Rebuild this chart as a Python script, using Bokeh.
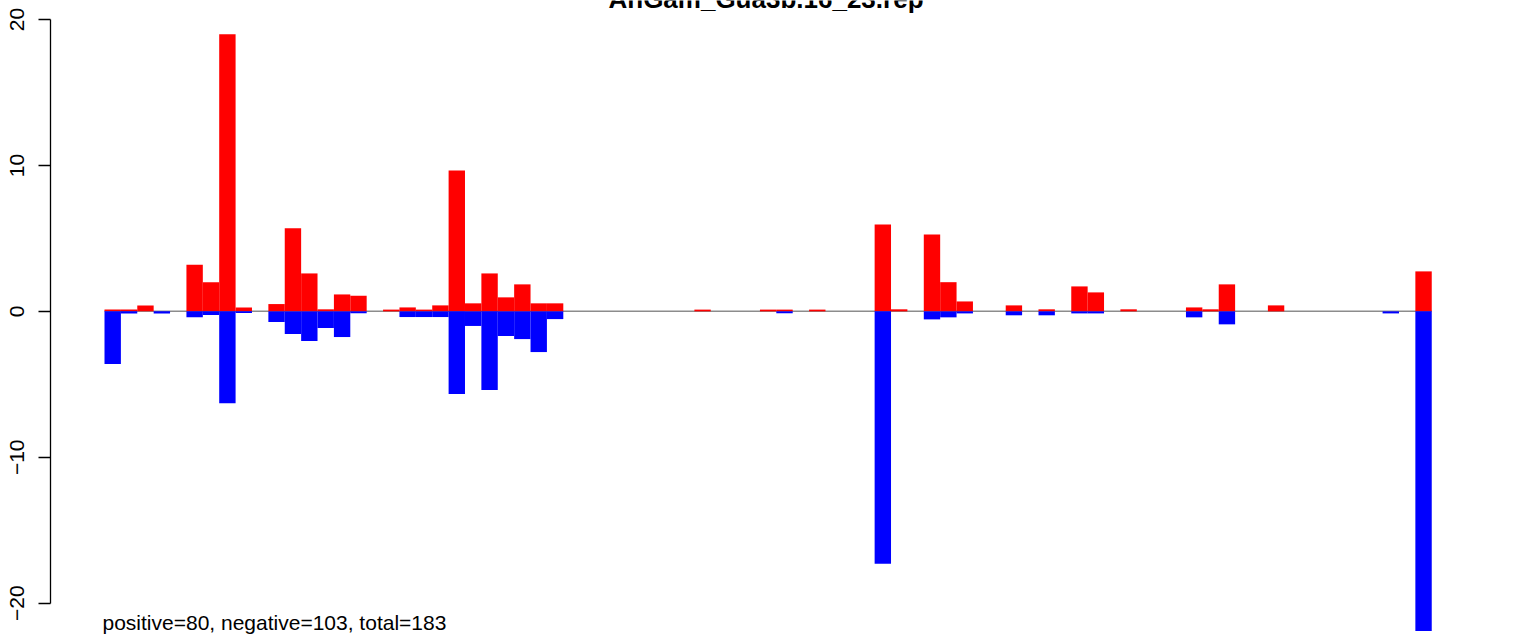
from bokeh.plotting import figure
from bokeh.models import Range1d, FixedTicker, Label, ColumnDataSource
from bokeh.embed import file_html
from bokeh.resources import INLINE

title_text = "AnGam_Gua3b.16_23.rep"
summary_text = "positive=80, negative=103, total=183"

# one entry per bar position (index 0..80)
positive = [
    0.12, 0.12, 0.40, 0.00, 0.00, 3.20, 2.00, 19.00, 0.27, 0.00,
    0.50, 5.70, 2.60, 0.14, 1.16, 1.07, 0.00, 0.12, 0.27, 0.12,
    0.41, 9.66, 0.55, 2.60, 0.96, 1.85, 0.55, 0.55, 0.00, 0.00,
    0.00, 0.00, 0.00, 0.00, 0.00, 0.00, 0.12, 0.00, 0.00, 0.00,
    0.12, 0.12, 0.00, 0.12, 0.00, 0.00, 0.00, 5.95, 0.14, 0.00,
    5.27, 2.00, 0.68, 0.00, 0.00, 0.41, 0.00, 0.14, 0.00, 1.71,
    1.30, 0.00, 0.14, 0.00, 0.00, 0.00, 0.27, 0.14, 1.85, 0.00,
    0.00, 0.41, 0.00, 0.00, 0.00, 0.00, 0.00, 0.00, 0.00, 0.00,
    2.74,
]
negative = [
    -3.60, -0.15, 0.00, -0.15, 0.00, -0.40, -0.25, -6.30, -0.12, 0.00,
    -0.73, -1.55, -2.03, -1.14, -1.76, -0.13, 0.00, 0.00, -0.39, -0.39,
    -0.39, -5.66, -1.00, -5.39, -1.69, -1.90, -2.79, -0.53, 0.00, 0.00,
    0.00, 0.00, 0.00, 0.00, 0.00, 0.00, 0.00, 0.00, 0.00, 0.00,
    0.00, -0.13, 0.00, 0.00, 0.00, 0.00, 0.00, -17.30, 0.00, 0.00,
    -0.55, -0.41, -0.14, 0.00, 0.00, -0.27, 0.00, -0.27, 0.00, -0.14,
    -0.14, 0.00, 0.00, 0.00, 0.00, 0.00, -0.41, 0.00, -0.89, 0.00,
    0.00, 0.00, 0.00, 0.00, 0.00, 0.00, 0.00, 0.00, -0.14, 0.00,
    -21.90,
]
y_ticks = [-20, -10, 0, 10, 20]
y_tick_labels = ["\u221220", "\u221210", "0", "10", "20"]

n = len(positive)
centers = [i + 0.5 for i in range(n)]
src = ColumnDataSource(dict(x=centers, pos=positive, neg=negative))

FONT = "Liberation Sans"

p = figure(
    width=1533, height=639,
    output_backend="svg", toolbar_location=None,
    x_axis_location=None,
    x_range=Range1d(-3.296, 87.21),
    y_range=Range1d(-22.49, 21.306),
    min_border_left=50, min_border_right=0,
    min_border_top=0, min_border_bottom=0,
)
p.xgrid.visible = False
p.ygrid.visible = False
p.outline_line_color = None
p.background_fill_color = "white"
p.border_fill_color = "white"

ax = p.yaxis[0]
ax.ticker = FixedTicker(ticks=y_ticks)
ax.major_label_overrides = {t: lab for t, lab in zip(y_ticks, y_tick_labels)}
ax.bounds = (y_ticks[0], y_ticks[-1])
ax.minor_tick_line_color = None
ax.major_tick_in = 0
ax.major_tick_out = 12
ax.major_tick_line_color = "black"
ax.major_tick_line_width = 1.3
ax.axis_line_color = "black"
ax.axis_line_width = 1.3
ax.major_label_orientation = "vertical"
ax.major_label_text_font = FONT
ax.major_label_text_font_size = "21px"
ax.major_label_text_color = "black"
ax.major_label_standoff = 14

# zero reference line across the bar span
p.segment(x0=[0], y0=[0], x1=[n], y1=[0], line_color="#8c8c8c", line_width=1.5)

p.vbar(x="x", width=1.0, bottom=0, top="pos", source=src,
       fill_color="#FF0000", line_color=None)
p.vbar(x="x", width=1.0, bottom=0, top="neg", source=src,
       fill_color="#0000FF", line_color=None)

p.add_layout(Label(x=0, y=-21.31, x_offset=-2, text=summary_text, text_font=FONT,
                   text_font_size="21px", text_color="black",
                   text_align="left", text_baseline="middle"))
p.add_layout(Label(x=40.37, y=21.42, text=title_text, text_font=FONT,
                   text_font_size="26px", text_font_style="bold",
                   text_color="black", text_align="center",
                   text_baseline="middle"))

open("out.html", "w").write(file_html(p, INLINE))
